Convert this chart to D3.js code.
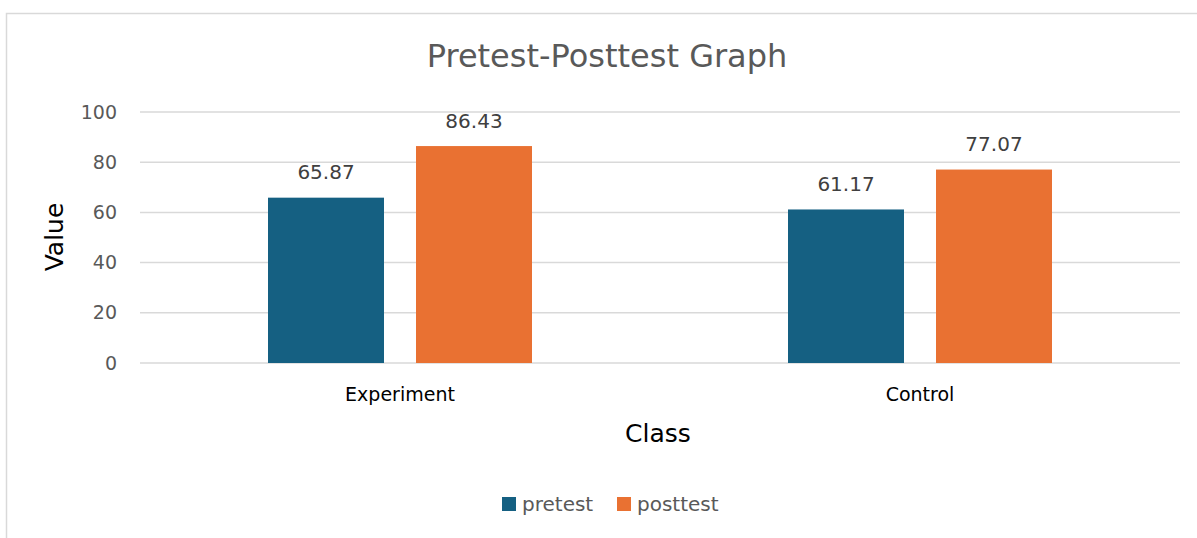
<!DOCTYPE html>
<html>
<head>
<meta charset="utf-8">
<script src="https://cdn.jsdelivr.net/npm/d3@7"></script>
<style>
  body { margin: 0; background: #fff; }
  text { font-family: "DejaVu Sans", sans-serif; }
</style>
</head>
<body>
<svg id="chart" width="1197" height="538"></svg>
<script>
// chart data
var categories = ['Experiment', 'Control'];
var seriesNames = ['pretest', 'posttest'];
var pretest = [65.87, 61.17];
var posttest = [86.43, 77.07];
var yTicks = [0, 20, 40, 60, 80, 100];

var colors = { pretest: '#156082', posttest: '#E97132' };

var svg = d3.select('#chart');

// outer chart border
svg.append('rect')
  .attr('x', 6.5).attr('y', 13.5)
  .attr('width', 1300).attr('height', 600)
  .attr('fill', '#fff')
  .attr('stroke', '#d9d9d9')
  .attr('stroke-width', 1.5);

var plotLeft = 140, plotRight = 1180, plotTop = 112, plotBottom = 363;

var x = d3.scaleBand()
  .domain(categories)
  .range([plotLeft, plotRight])
  .padding(0);

// inner scale for the two bars in a group
var groupWidth = 264;
var xInner = d3.scaleBand()
  .domain(seriesNames)
  .range([-groupWidth / 2, groupWidth / 2])
  .paddingInner(32 / 148);

var y = d3.scaleLinear()
  .domain([0, 100])
  .range([plotBottom, plotTop]);

// gridlines
svg.append('g')
  .selectAll('line')
  .data(yTicks)
  .enter()
  .append('line')
  .attr('x1', plotLeft).attr('x2', plotRight)
  .attr('y1', function(d) { return y(d); })
  .attr('y2', function(d) { return y(d); })
  .attr('stroke', '#d9d9d9')
  .attr('stroke-width', 1.5);

// y axis labels
var yAxis = d3.axisLeft(y).tickValues(yTicks).tickSize(0).tickPadding(0);
var yg = svg.append('g')
  .attr('transform', 'translate(117,0)')
  .call(yAxis);
yg.select('.domain').remove();
yg.selectAll('text')
  .attr('font-size', 19)
  .attr('fill', '#595959')
  .style('font-family', '"DejaVu Sans", sans-serif');

// bars
var rows = categories.map(function(c, i) {
  return { cat: c, values: [
    { key: 'pretest', value: pretest[i] },
    { key: 'posttest', value: posttest[i] }
  ] };
});

var groups = svg.selectAll('.group')
  .data(rows)
  .enter()
  .append('g')
  .attr('class', 'group')
  .attr('transform', function(d) {
    return 'translate(' + (x(d.cat) + x.bandwidth() / 2) + ',0)';
  });

groups.selectAll('rect')
  .data(function(d) { return d.values; })
  .enter()
  .append('rect')
  .attr('x', function(d) { return xInner(d.key); })
  .attr('width', xInner.bandwidth())
  .attr('y', function(d) { return y(d.value); })
  .attr('height', function(d) { return y(0) - y(d.value); })
  .attr('fill', function(d) { return colors[d.key]; });

groups.selectAll('.val')
  .data(function(d) { return d.values; })
  .enter()
  .append('text')
  .attr('class', 'val')
  .attr('x', function(d) { return xInner(d.key) + xInner.bandwidth() / 2; })
  .attr('y', function(d) { return y(d.value) - 18.5; })
  .attr('text-anchor', 'middle')
  .attr('font-size', 20)
  .attr('fill', '#404040')
  .text(function(d) { return d.value.toFixed(2); });

// category labels
svg.selectAll('.cat')
  .data(categories)
  .enter()
  .append('text')
  .attr('class', 'cat')
  .attr('x', function(d) { return x(d) + x.bandwidth() / 2; })
  .attr('y', 401)
  .attr('text-anchor', 'middle')
  .attr('font-size', 19)
  .attr('fill', '#000')
  .text(function(d) { return d; });

// titles
svg.append('text')
  .attr('x', 607).attr('y', 67)
  .attr('text-anchor', 'middle')
  .attr('font-size', 32)
  .attr('fill', '#595959')
  .text('Pretest-Posttest Graph');

svg.append('text')
  .attr('transform', 'translate(63,237) rotate(-90)')
  .attr('text-anchor', 'middle')
  .attr('font-size', 25)
  .attr('fill', '#000')
  .text('Value');

svg.append('text')
  .attr('x', 658).attr('y', 442)
  .attr('text-anchor', 'middle')
  .attr('font-size', 25)
  .attr('fill', '#000')
  .text('Class');

// legend
var legendX = [502, 617];
var legend = svg.selectAll('.legend')
  .data(seriesNames)
  .enter()
  .append('g')
  .attr('class', 'legend')
  .attr('transform', function(d, i) { return 'translate(' + legendX[i] + ',497)'; });

legend.append('rect')
  .attr('width', 14).attr('height', 14)
  .attr('fill', function(d) { return colors[d]; });

legend.append('text')
  .attr('x', 20).attr('y', 14)
  .attr('font-size', 20)
  .attr('fill', '#595959')
  .text(function(d) { return d; });
</script>
</body>
</html>
